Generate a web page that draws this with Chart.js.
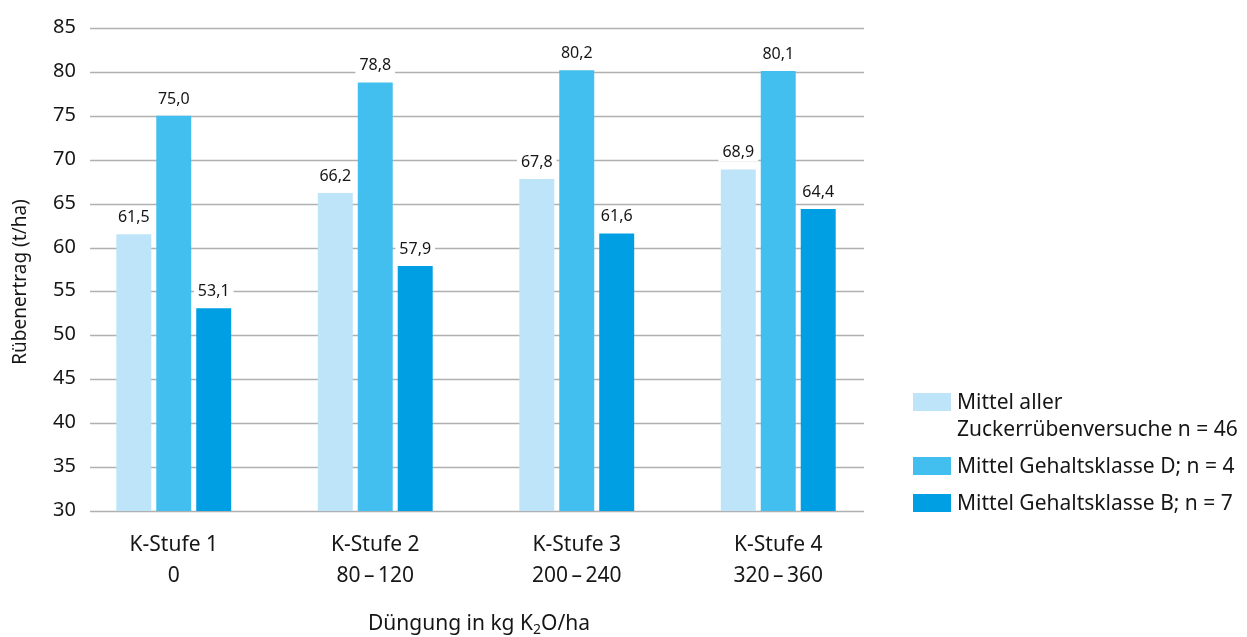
<!DOCTYPE html>
<html lang="de">
<head>
<meta charset="utf-8">
<title>Rübenertrag nach K-Stufe</title>
<script src="https://cdn.jsdelivr.net/npm/chart.js@4/dist/chart.umd.min.js"></script>
<style>
  html, body { margin: 0; padding: 0; background: #ffffff; }
  #wrap { width: 1247px; height: 637px; }
</style>
</head>
<body>
<div id="wrap"><canvas id="chart" width="1247" height="637"></canvas></div>
<script>
// K-Stufen (Düngung in kg K2O/ha)
const categories = [
  ['K-Stufe 1', '0'],
  ['K-Stufe 2', '80\u2009\u2013\u2009120'],
  ['K-Stufe 3', '200\u2009\u2013\u2009240'],
  ['K-Stufe 4', '320\u2009\u2013\u2009360']
];

// Rübenertrag in t/ha
const mittelAlle = [61.5, 66.2, 67.8, 68.9];
const mittelKlasseD = [75.0, 78.8, 80.2, 80.1];
const mittelKlasseB = [53.1, 57.9, 61.6, 64.4];

const seriesNames = [
  ['Mittel aller', 'Zuckerrübenversuche n = 46'],
  ['Mittel Gehaltsklasse D; n = 4'],
  ['Mittel Gehaltsklasse B; n = 7']
];

// y axis: 30 to 85 in steps of 5
const yMin = 30, yMax = 85, yStep = 5;

const FONT = '"Noto Sans", "Open Sans", sans-serif';
const TEXT = '#161616';
const colors = ['#bde4f8', '#42bfee', '#009fe3'];

// horizontal grid lines and y tick labels, drawn under the bars
const gridPlugin = {
  id: 'gridLines',
  beforeDatasetsDraw(chart) {
    const { ctx } = chart;
    const y = chart.scales.y;
    ctx.save();
    ctx.strokeStyle = '#b0b0b0';
    ctx.lineWidth = 1.6;
    ctx.font = '20px ' + FONT;
    ctx.fillStyle = TEXT;
    ctx.textAlign = 'right';
    ctx.textBaseline = 'alphabetic';
    y.ticks.forEach(t => {
      const py = Math.round(y.getPixelForValue(t.value)) + 0.5;
      ctx.beginPath();
      ctx.moveTo(90, py);
      ctx.lineTo(864, py);
      ctx.stroke();
      ctx.fillText(String(t.value), 76, py + 4);
    });
    ctx.restore();
  }
};

// value labels above each bar, on a white backing box
const valueLabels = {
  id: 'valueLabels',
  afterDatasetsDraw(chart) {
    const { ctx } = chart;
    ctx.save();
    ctx.font = '16px ' + FONT;
    ctx.textAlign = 'center';
    ctx.textBaseline = 'alphabetic';
    chart.data.datasets.forEach((ds, di) => {
      chart.getDatasetMeta(di).data.forEach((bar, i) => {
        const txt = ds.data[i].toFixed(1).replace('.', ',');
        const w = ctx.measureText(txt).width;
        const base = bar.y - 12;
        ctx.fillStyle = '#ffffff';
        ctx.fillRect(bar.x - w / 2 - 4, base - 15, w + 8, 19);
        ctx.fillStyle = TEXT;
        ctx.fillText(txt, bar.x, base);
      });
    });
    ctx.restore();
  }
};

// axis titles and legend
const annotations = {
  id: 'annotations',
  afterDraw(chart) {
    const { ctx } = chart;
    ctx.save();
    ctx.fillStyle = TEXT;

    // y title
    ctx.font = '19px ' + FONT;
    ctx.textAlign = 'center';
    ctx.textBaseline = 'middle';
    ctx.translate(21, 282);
    ctx.rotate(-Math.PI / 2);
    ctx.fillText('Rübenertrag (t/ha)', 0, 0);
    ctx.setTransform(1, 0, 0, 1, 0, 0);

    // x title with subscript
    const parts = [['Düngung in kg K', 21, 0], ['2', 14, 4], ['O/ha', 21, 0]];
    let total = 0;
    parts.forEach(p => { ctx.font = p[1] + 'px ' + FONT; total += ctx.measureText(p[0]).width; });
    let x = 479 - total / 2;
    ctx.textAlign = 'left';
    ctx.textBaseline = 'alphabetic';
    parts.forEach(p => {
      ctx.font = p[1] + 'px ' + FONT;
      ctx.fillText(p[0], x, 630 + p[2]);
      x += ctx.measureText(p[0]).width;
    });

    // legend
    ctx.font = '21px ' + FONT;
    let baseY = 409;
    chart.data.datasets.forEach((ds, i) => {
      ctx.fillStyle = ds.backgroundColor;
      ctx.fillRect(913, baseY - 16, 38, 18);
      ctx.fillStyle = TEXT;
      seriesNames[i].forEach((line, li) => {
        ctx.fillText(line, 957, baseY + li * 27);
      });
      baseY += (seriesNames[i].length - 1) * 27 + 37;
    });
    ctx.restore();
  }
};

new Chart(document.getElementById('chart'), {
  type: 'bar',
  data: {
    labels: categories,
    datasets: [
      { label: seriesNames[0].join(' '), data: mittelAlle, backgroundColor: colors[0] },
      { label: seriesNames[1].join(' '), data: mittelKlasseD, backgroundColor: colors[1] },
      { label: seriesNames[2].join(' '), data: mittelKlasseB, backgroundColor: colors[2] }
    ]
  },
  options: {
    responsive: false,
    devicePixelRatio: 1,
    animation: false,
    layout: { padding: { left: 0, right: 368, top: 28, bottom: 0 } },
    datasets: { bar: { categoryPercentage: 0.595, barPercentage: 0.875 } },
    plugins: { legend: { display: false }, tooltip: { enabled: false } },
    scales: {
      x: {
        grid: { display: false, drawTicks: false },
        border: { display: false },
        ticks: {
          color: TEXT,
          font: { family: FONT, size: 21, lineHeight: 1.45 },
          padding: 19,
          maxRotation: 0,
          autoSkip: false
        },
        afterFit(scale) { scale.height = 126; }
      },
      y: {
        min: yMin,
        max: yMax,
        grid: { display: false, drawTicks: false },
        border: { display: false },
        ticks: { display: false, stepSize: yStep },
        afterFit(scale) { scale.width = 73; }
      }
    }
  },
  plugins: [gridPlugin, valueLabels, annotations]
});
</script>
</body>
</html>
